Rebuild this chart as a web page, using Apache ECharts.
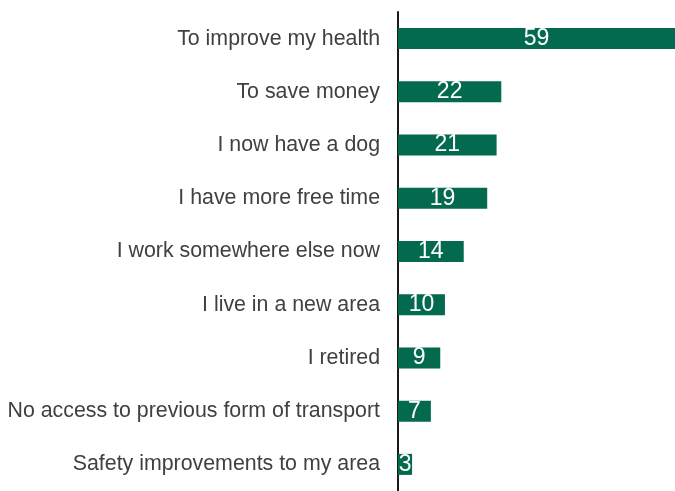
<!DOCTYPE html>
<html>
<head>
<meta charset="utf-8">
<script src="https://cdn.jsdelivr.net/npm/echarts@6/dist/echarts.min.js"></script>
<style>
  html, body { margin: 0; padding: 0; background: #fff; }
  #chart { width: 675px; height: 491px; }
</style>
</head>
<body>
<div id="chart"></div>
<script>
// Reasons for changing travel habits (percent of respondents)
const reasons = [
  'To improve my health',
  'To save money',
  'I now have a dog',
  'I have more free time',
  'I work somewhere else now',
  'I live in a new area',
  'I retired',
  'No access to previous form of transport',
  'Safety improvements to my area'
];
const shares = [59, 22, 21, 19, 14, 10, 9, 7, 3];

const chart = echarts.init(document.getElementById('chart'), null, { renderer: 'canvas' });
chart.setOption({
  animation: false,
  grid: { left: 398, right: 0, top: 12, height: 486, containLabel: false },
  xAxis: {
    type: 'value', min: 0, max: 59,
    show: false
  },
  yAxis: {
    type: 'category',
    inverse: true,
    data: reasons,
    axisLine: { show: true, lineStyle: { color: '#1a1a1a', width: 2 } },
    axisTick: { show: false },
    axisLabel: {
      margin: 18,
      color: '#404040',
      fontFamily: 'Liberation Sans, Arial, sans-serif',
      fontSize: 21.35
    }
  },
  series: [{
    type: 'bar',
    data: shares,
    barWidth: 21,
    itemStyle: { color: '#03694F' },
    label: {
      show: true,
      position: 'inside',
      color: '#ffffff',
      fontFamily: 'Liberation Sans, Arial, sans-serif',
      fontSize: 23
    }
  }]
});
</script>
</body>
</html>
